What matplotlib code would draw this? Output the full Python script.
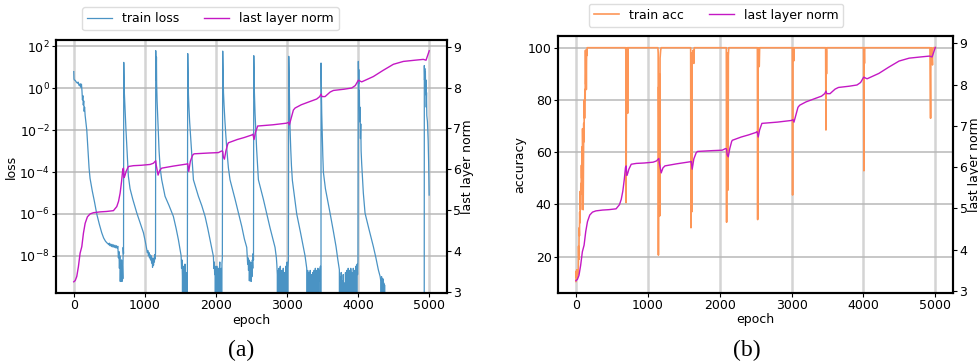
import numpy as np
import matplotlib
matplotlib.use('Agg')
import matplotlib.pyplot as plt
from matplotlib.ticker import NullLocator, FixedLocator

Z = -99.0  # loss exactly zero (drops below the log axis)

# ---------------- data ----------------
x_ticks = [0, 1000, 2000, 3000, 4000, 5000]
loss_ticks = [1e-8, 1e-6, 1e-4, 1e-2, 1e0, 1e2]
acc_ticks = [20, 40, 60, 80, 100]
norm_ticks = [3, 4, 5, 6, 7, 8, 9]

loss_epoch = [
    0, 3, 8, 20, 35, 50, 60, 70, 80, 90, 100, 108, 115, 122, 128, 134, 140, 146, 152, 160,
    183, 200, 215, 229, 260, 290, 323, 360, 393, 420, 445, 465,
    480, 490, 500, 510, 520, 530, 540, 550, 560, 570, 580, 590, 600, 610, 620,
    628, 635, 642, 648, 654, 660, 666, 672, 678, 684, 690, 695, 700,
    703, 707, 710, 716, 722, 733, 745, 757, 768, 792, 830, 886, 930, 980, 1005, 1027,
    1035, 1042, 1050, 1058, 1065, 1072, 1080, 1088, 1095, 1102, 1108, 1115, 1122, 1128, 1134, 1140, 1146, 1150,
    1153, 1156, 1159, 1163, 1166, 1172, 1180, 1190, 1200, 1215, 1237, 1284, 1340, 1401, 1440, 1472, 1495, 1510,
    1516, 1522, 1528, 1534, 1540, 1546, 1552, 1558, 1564, 1570, 1576, 1582, 1588, 1594, 1598,
    1603, 1606, 1609, 1613, 1620, 1630, 1645, 1660, 1683, 1753, 1800, 1847, 1885, 1917, 1945, 1964,
    1970, 1976, 1982, 1988, 1994, 2000, 2006, 2012, 2018, 2024, 2030, 2036, 2042, 2048, 2054, 2060, 2066, 2072, 2078, 2084, 2090,
    2095, 2098, 2101, 2106, 2114, 2125, 2140, 2155, 2175, 2198, 2269, 2320, 2363, 2400, 2433,
    2440, 2446, 2452, 2458, 2464, 2470, 2476, 2482, 2488, 2494, 2500, 2506, 2512, 2518, 2523, 2528,
    2532, 2535, 2538, 2543, 2550, 2560, 2572, 2585, 2597, 2667, 2715, 2761, 2800, 2831, 2850,
    2857, 2863, 2869, 2875, 2881, 2887, 2893, 2899, 2905, 2911, 2917, 2923, 2929, 2935, 2941, 2947,
    2953, 2959, 2965, 2971, 2977, 2983, 2989, 2995, 3001, 3007, 3013, 3019,
    3024, 3027, 3030, 3035, 3042, 3052, 3062, 3075, 3136, 3190, 3253, 3277,
    3284, 3290, 3296, 3302, 3308, 3314, 3320, 3326, 3332, 3338, 3344, 3350, 3356, 3362, 3368, 3374,
    3380, 3386, 3392, 3398, 3404, 3410, 3416, 3422, 3428, 3434, 3440, 3446, 3452, 3458, 3464, 3470, 3475,
    3478, 3481, 3484, 3488, 3495, 3503, 3511, 3540, 3605, 3650, 3689, 3715, 3736,
    3742, 3748, 3755, 3762, 3768, 3775, 3782, 3790, 3798, 3806, 3814, 3822, 3830, 3840, 3848, 3854,
    3860, 3866, 3872, 3878, 3884, 3890, 3896, 3902, 3908, 3914, 3920, 3926, 3932, 3938, 3944, 3950,
    3956, 3962, 3968, 3974, 3980, 3986, 3992, 3998,
    4003, 4006, 4009, 4013, 4017, 4022, 4027, 4032, 4037, 4042, 4050, 4073, 4097, 4150, 4214, 4250, 4284, 4310,
    4318, 4324, 4330, 4336, 4342, 4348, 4354, 4360, 4366, 4372, 4378, 4920,
    4931, 4934, 4938, 4942, 4946, 4950, 4954, 4958, 4962, 4966, 4975, 4985, 4992, 4999,
]
loss_log10 = [
    0.80, 0.45, 0.40, 0.38, 0.30, 0.25, 0.30, 0.18, 0.12, 0.22, 0.05, 0.20, -0.10, -0.55, -0.35, -0.80, -0.60, -1.10, -0.90, -1.30,
    -2.00, -3.00, -3.80, -4.30, -4.90, -5.40, -6.00, -6.50, -6.90, -7.15, -7.30, -7.38,
    -7.42, -7.47, -7.40, -7.52, -7.44, -7.56, -7.46, -7.58, -7.48, -7.60, -7.50, -7.62, -7.52, -7.64, -7.55,
    -8.10, -7.80, -8.60, -8.00, -9.23, -8.40, -9.20, -8.20, -9.23, -8.50, -9.10, -7.60, -7.90,
    1.24, 0.30, -0.10, -0.60, -1.10, -1.90, -2.70, -3.50, -4.20, -4.80, -5.30, -5.95, -6.40, -6.90, -7.30, -7.70,
    -7.85, -7.75, -8.00, -7.85, -8.10, -7.95, -8.20, -8.00, -8.35, -8.10, -8.55, -8.20, -8.45, -8.10, -8.30, -7.95, -8.15, -7.85,
    1.80, 1.20, 0.40, 1.50, 0.20, -0.60, -1.30, -2.20, -3.00, -3.80, -4.37, -5.16, -5.60, -6.12, -6.70, -7.24, -7.70, -8.00,
    -8.60, -8.20, -9.00, Z, -8.50, -9.30, -8.70, Z, -8.40, -9.50, Z, -8.80, -9.40, Z, -8.30,
    1.66, 1.10, 0.30, -0.30, -0.90, -1.60, -2.40, -3.20, -4.37, -5.16, -5.60, -6.12, -6.70, -7.24, -7.70, -8.03,
    -8.60, -8.30, -8.90, -8.50, Z, -8.80, -9.30, -8.50, Z, -9.00, -8.60, -9.40, Z, -8.70, -8.30, Z, -9.20, -8.60, Z, -8.40, -8.10,
    1.78, 1.20, 0.40, -0.20, -0.80, -1.50, -2.30, -3.00, -3.80, -4.37, -5.30, -6.00, -6.60, -7.20, -7.60,
    -8.00, -8.40, -8.10, -8.70, -8.20, -9.20, -8.40, -8.90, -8.30, -9.23, -8.50, -9.00, -8.20, -8.60, -7.90, -8.20,
    1.56, 1.00, 0.10, -0.50, -1.20, -2.00, -2.90, -3.70, -4.37, -5.30, -6.00, -6.67, -7.20, -7.60, -8.10,
    -8.45, -8.90, Z, -8.70, -9.40, -8.60, Z, -9.00, -8.50, Z, -9.20, -8.70, Z, -8.90, -9.50, -8.60,
    Z, -9.10, -8.80, Z, -9.30, -8.50, Z, -8.90, -8.30, Z, -8.60, -8.20,
    1.53, 0.90, 0.20, -0.60, -1.90, -2.90, -3.70, -4.40, -6.00, -6.90, -8.00, -8.60,
    Z, -8.70, -9.30, Z, -8.80, -9.50, Z, -8.70, -9.20, Z, -8.90, -9.60, Z, -8.80, -9.30, Z,
    -8.70, -9.10, Z, -8.60, -9.40, Z, -8.70, -9.00, Z, -8.60, -8.90, Z, -8.70, -9.20, -8.60, -8.50, Z,
    1.21, 0.60, -0.30, -1.20, -2.20, -3.20, -4.00, -4.80, -5.96, -6.80, -7.56, -8.20, -8.67,
    Z, -9.00, Z, -8.80, Z, -9.20, Z, -8.90, Z, -9.30, Z, -8.80, Z, -8.70, -9.40, Z,
    -8.60, -9.10, Z, -8.70, -9.30, Z, -8.60, -9.00, Z, -8.80, -9.40, Z, -8.60, -9.10, Z, -8.70,
    -9.30, Z, -8.50, -9.00, Z, -8.40, -8.90, -8.20,
    1.29, 0.20, 0.90, -0.80, -0.10, -1.60, -0.90, -2.40, -1.70, -3.00, -3.60, -5.00, -5.96, -6.70, -7.56, -8.10, -8.67, -9.00,
    -9.20, Z, -9.00, -9.50, Z, -9.10, Z, -9.30, Z, -9.40, Z, Z,
    1.09, 0.40, 0.95, 0.20, 0.80, -0.30, 0.40, -0.90, -0.20, -1.30, -1.60, -2.50, -3.60, -5.10,
]

norm_epoch = [
    0, 20, 42, 65, 89, 113, 136, 160, 192, 230, 277, 370, 460, 558, 605, 630, 652, 672, 689, 698,
    708, 720, 736, 769, 839, 950, 1073, 1120, 1153, 1160, 1186, 1210, 1238, 1400, 1589, 1603, 1617,
    1640, 1673, 1692, 1900, 2034, 2081, 2095, 2104, 2119, 2140, 2166, 2175, 2300, 2400, 2503, 2520,
    2536, 2555, 2587, 2800, 2995, 3020, 3033, 3050, 3089, 3113, 3200, 3323, 3417, 3460, 3478, 3490,
    3535, 3605, 3652, 3800, 3910, 3960, 4003, 4050, 4214, 4350, 4496, 4636, 4800, 4917, 4955, 5000,
]
norm_value = [
    3.25, 3.28, 3.38, 3.62, 3.95, 4.11, 4.44, 4.68, 4.84, 4.91, 4.94, 4.96, 4.97, 4.99, 5.09, 5.22, 5.42, 5.70, 5.99, 6.03,
    5.80, 5.85, 5.95, 6.07, 6.09, 6.10, 6.12, 6.15, 6.21, 6.10, 5.86, 5.98, 6.03, 6.08, 6.13, 6.14, 5.95,
    6.20, 6.35, 6.38, 6.40, 6.41, 6.45, 6.44, 6.30, 6.25, 6.45, 6.62, 6.65, 6.73, 6.78, 6.84, 6.86,
    6.73, 6.90, 7.06, 7.09, 7.13, 7.15, 7.09, 7.20, 7.45, 7.50, 7.58, 7.66, 7.72, 7.78, 7.84, 7.78,
    7.78, 7.89, 7.93, 7.96, 7.99, 8.05, 8.18, 8.14, 8.27, 8.42, 8.57, 8.64, 8.67, 8.69, 8.67, 8.90,
]

acc_epoch = [
    0, 4, 8, 12, 16, 20, 24, 28, 32, 36, 40, 44, 48, 52, 56, 60, 64, 68, 72, 76, 80,
    84, 88, 92, 96, 100, 104, 108, 112, 116, 120, 124, 128, 132, 136, 140, 144, 148, 152, 156, 160,
    690, 694, 697, 701, 705, 710, 716, 719, 723,
    1140, 1144, 1147, 1151, 1155, 1160, 1165, 1170, 1178, 1185,
    1596, 1600, 1604, 1608, 1612, 1616, 1630, 1640, 1646,
    2092, 2096, 2100, 2105, 2110, 2116, 2120, 2126,
    2524, 2528, 2532, 2538, 2545, 2550, 2555,
    3010, 3014, 3018, 3025, 3032, 3036,
    3474, 3478, 3482, 3486, 3490,
    4002, 4006, 4010, 4014, 4018,
    4925, 4930, 4934, 4938, 4945, 4955, 4960, 4965, 4970, 5000,
]
acc_value = [
    10.5, 14.5, 12, 15, 11.5, 14.5, 13, 15, 14, 24, 19, 31, 28, 37, 33, 45, 38, 48, 44, 55, 50,
    62, 55, 69, 62, 38, 55, 71, 64, 80, 73, 84, 80, 99, 86, 99, 84, 99, 97, 100, 100,
    100, 99, 40.7, 72, 99, 100, 100, 74.9, 100,
    100, 98, 20.6, 85, 60, 90, 35.6, 96, 99, 100,
    100, 31.1, 90, 98, 37.2, 96, 99, 94, 100,
    100, 33.2, 95, 70, 98, 45.5, 97, 100,
    100, 34.2, 96, 100, 92.7, 93, 100,
    100, 43.6, 98, 100, 95, 100,
    100, 68.5, 99, 90, 100,
    100, 52.9, 98, 94, 100,
    100, 85, 73, 99, 100, 96, 93.4, 99, 100, 100,
]

# ---------------- styling ----------------
plt.rcParams['font.family'] = ['DejaVu Sans']
plt.rcParams['font.size'] = 9
W, H = 979, 362
fig = plt.figure(figsize=(W / 100, H / 100), dpi=100)

LOSS_C = '#4a93c4'
ACC_C = '#fd9657'
NORM_C = '#c418c4'
VGRID = dict(color='#d4d4d4', lw=1.8)
HGRID = dict(color='#b8b8b8', lw=1.1)


def style_axes(ax):
    for s in ax.spines.values():
        s.set_linewidth(1.5)
    ax.tick_params(labelsize=9, pad=1.5, length=3)


def make_panel(rect, main_x, main_y, main_c, main_lw, main_label, ylabel, ylim, yscale,
               yticks, nlim, legend_x, legend_top, caption, cap_x):
    ax = fig.add_axes(rect)
    l1, = ax.plot(main_x, main_y, color=main_c, lw=main_lw, label=main_label)
    if yscale == 'log':
        ax.set_yscale('log')
    ax.set_xlim(-250, 5250)
    ax.set_ylim(*ylim)
    ax.xaxis.set_major_locator(FixedLocator(x_ticks))
    ax.yaxis.set_major_locator(FixedLocator(yticks))
    ax.yaxis.set_minor_locator(NullLocator())
    ax.set_axisbelow(True)
    ax.xaxis.grid(True, **VGRID)
    ax.yaxis.grid(True, **HGRID)
    ax.set_xlabel('epoch', fontsize=9, labelpad=1)
    ax.set_ylabel(ylabel, fontsize=9, labelpad=1)
    style_axes(ax)

    ax2 = ax.twinx()
    l2, = ax2.plot(norm_epoch, norm_value, color=NORM_C, lw=1.0, label='last layer norm')
    ax2.set_ylim(*nlim)
    ax2.yaxis.set_major_locator(FixedLocator(norm_ticks))
    ax2.set_ylabel('last layer norm', fontsize=9, labelpad=0)
    style_axes(ax2)

    ax.legend([l1, l2], [main_label, 'last layer norm'], loc='upper center',
              bbox_to_anchor=(legend_x, legend_top), ncol=2, fontsize=9,
              frameon=True, edgecolor='#dddddd', framealpha=1.0, borderaxespad=0)
    fig.text(cap_x / W, 1 - 350 / H, caption, fontsize=17, family='Liberation Serif',
             ha='center', va='center')
    return ax, ax2


loss_vals = 10.0 ** np.array(loss_log10)

make_panel([56 / W, (H - 293) / H, 391 / W, 253 / H],
           loss_epoch, loss_vals, LOSS_C, 0.9, 'train loss', 'loss',
           (10 ** -9.78, 10 ** 2.31), 'log', loss_ticks, (2.976, 9.164),
           0.395, 1.13, '(a)', 240.7)

make_panel([558 / W, (H - 292.7) / H, 395.3 / W, 257 / H],
           acc_epoch, acc_value, ACC_C, 1.2, 'train acc', 'accuracy',
           (6.2, 104.6), 'linear', acc_ticks, (2.958, 9.184),
           0.40, 1.125, '(b)', 746.7)

fig.savefig('out.png', dpi=100)
